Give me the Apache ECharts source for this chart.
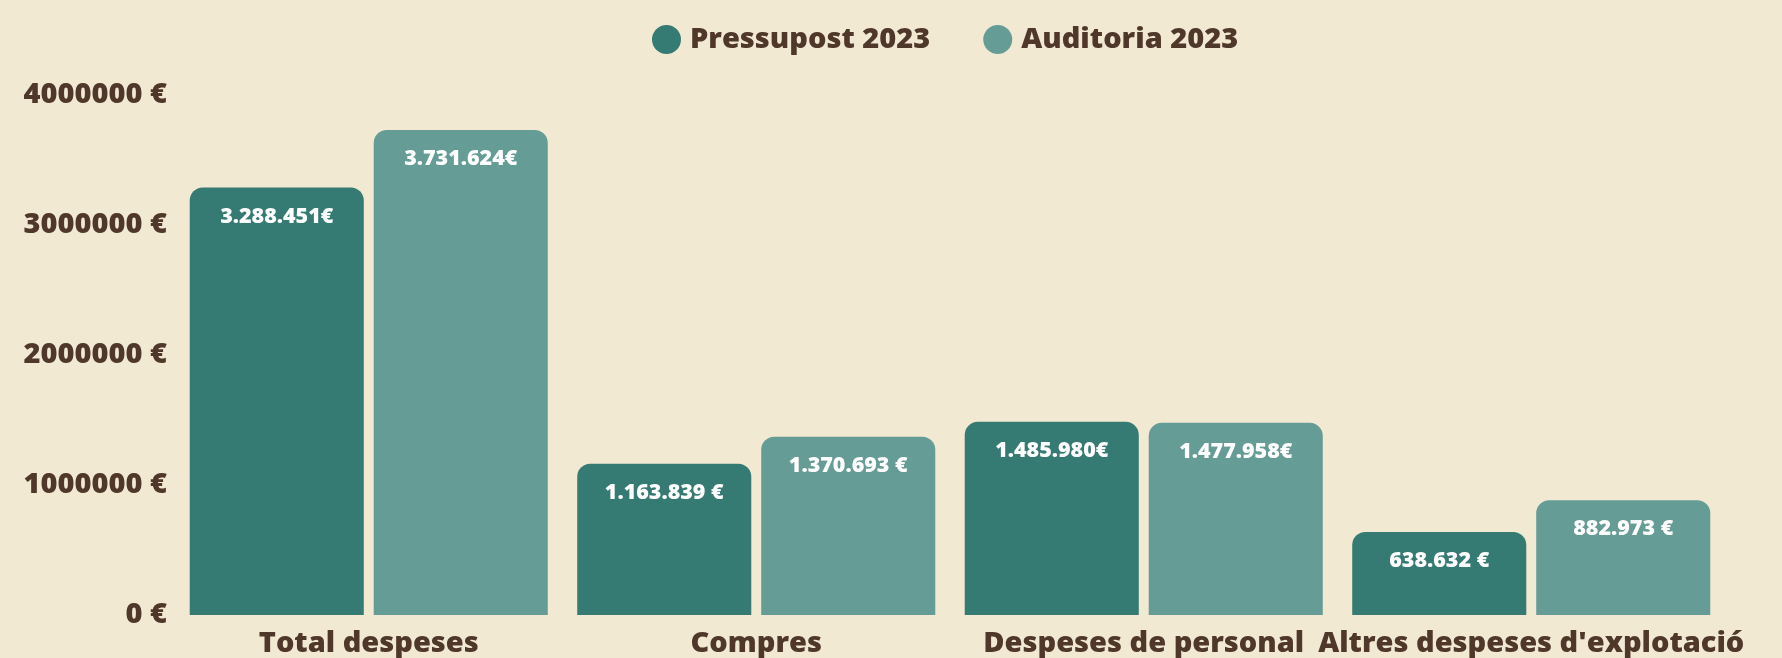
<!DOCTYPE html>
<html>
<head>
<meta charset="utf-8">
<script src="https://cdn.jsdelivr.net/npm/echarts@6/dist/echarts.min.js"></script>
<style>
html,body{margin:0;padding:0;background:#F2E9D3;}
#c{width:1782px;height:658px;}
</style>
</head>
<body>
<div id="c"></div>
<script>
const categories = ['Total despeses', 'Compres', 'Despeses de personal', "Altres despeses d'explotació"];
const seriesNames = ['Pressupost 2023', 'Auditoria 2023'];
const pressupost = [3288451, 1163839, 1485980, 638632];
const auditoria = [3731624, 1370693, 1477958, 882973];
const pressupostLabels = ['3.288.451€', '1.163.839 €', '1.485.980€', '638.632 €'];
const auditoriaLabels = ['3.731.624€', '1.370.693 €', '1.477.958€', '882.973 €'];
const yTicks = [0, 1000000, 2000000, 3000000, 4000000];

const brown = '#4F3829';
const font = '"Open Sans", sans-serif';
const chart = echarts.init(document.getElementById('c'));

function mkSeries(name, data, labels, color) {
  return {
    name: name,
    type: 'bar',
    data: data,
    barGap: '5.7%',
    barCategoryGap: '7.6%',
    itemStyle: { color: color, borderRadius: [13, 13, 0, 0] },
    label: {
      show: true,
      position: 'insideTop',
      distance: 18,
      color: '#ffffff',
      fontFamily: font,
      fontWeight: 800,
      fontSize: 21.5,
      formatter: p => labels[p.dataIndex]
    }
  };
}

chart.setOption({
  backgroundColor: '#F2E9D3',
  animation: false,
  legend: {
    top: 20,
    left: 647,
    icon: 'circle',
    itemWidth: 29,
    itemHeight: 29,
    itemGap: 53,
    textStyle: { color: brown, fontFamily: font, fontWeight: 800, fontSize: 29, padding: [0, 0, 0, 4] },
    data: seriesNames
  },
  grid: { left: 175, right: 57, top: 95, bottom: 40, containLabel: false },
  xAxis: {
    type: 'category',
    data: categories,
    axisLine: { show: false },
    axisTick: { show: false },
    axisLabel: { color: brown, fontFamily: font, fontWeight: 800, fontSize: 29, margin: 14, interval: 0 }
  },
  yAxis: {
    type: 'value',
    min: yTicks[0],
    max: yTicks[yTicks.length - 1],
    interval: 1000000,
    splitLine: { show: false },
    axisLine: { show: false },
    axisTick: { show: false },
    axisLabel: { color: brown, fontFamily: font, fontWeight: 800, fontSize: 29, margin: 8, formatter: v => v + ' €' }
  },
  series: [
    mkSeries(seriesNames[0], pressupost, pressupostLabels, '#367B73'),
    mkSeries(seriesNames[1], auditoria, auditoriaLabels, '#659C96')
  ]
});
</script>
</body>
</html>
